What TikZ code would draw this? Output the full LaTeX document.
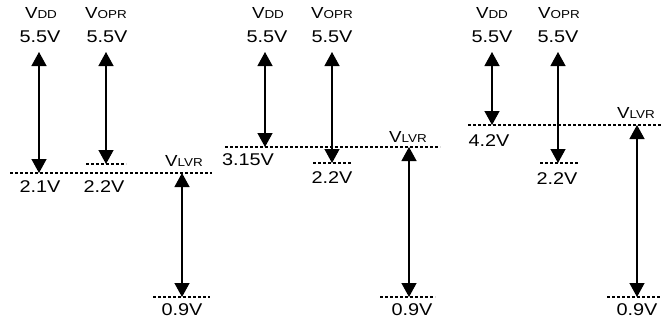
\documentclass[tikz,border=0pt]{standalone}
\usepackage{fontspec}
\setmainfont{Liberation Sans}
\usetikzlibrary{arrows.meta}
\newcommand{\vname}[1]{{\fontsize{16}{16}\selectfont V}{\fontsize{11.5}{12}\selectfont #1}}

\begin{document}
\begin{tikzpicture}[x=1pt,y=-1pt]
  \tikzstyle{volt}=[inner sep=0pt,font=\fontsize{17}{17}\selectfont,xscale=1.17,transform shape]
  \tikzstyle{vlab}=[inner sep=0pt,anchor=base,xscale=1.17,transform shape]
  \tikzstyle{level}=[dash pattern=on 3pt off 2pt,line width=1.1pt]
  \tikzstyle{span}=[{Triangle[width=15pt,length=14pt]}-{Triangle[width=15pt,length=14pt]},line width=1.3pt]
  \useasboundingbox (0,0) rectangle (661,322);
  % first case
  \node[vlab] (dd1) at (41,18) {\vname{DD}};
  \node[vlab] (opr1) at (106,18) {\vname{OPR}};
  \node[volt,anchor=base] (ddmax1) at (40,42) {5.5V};
  \node[volt,anchor=base] (oprmax1) at (107,42) {5.5V};
  \node[volt] (ddmin1) at (40,187) {2.1V};
  \node[volt] (oprmin1) at (104,187) {2.2V};
  \node[vlab] (lvr1) at (184,166) {\vname{LVR}};
  \node[volt] (lvrmin1) at (182,310) {0.9V};
  \draw[level] (10,173) -- (212,173);
  \draw[level] (86,164) -- (126,164);
  \draw[level] (153,297) -- (210,297);
  \coordinate (ddtop1) at (39,52);
  \coordinate (ddbot1) at (39,173);
  \coordinate (oprtop1) at (106,52);
  \coordinate (oprbot1) at (106,164);
  \coordinate (lvrtop1) at (182,173);
  \coordinate (lvrbot1) at (182,297);
  \draw[span] (ddtop1) -- (ddbot1);
  \draw[span] (oprtop1) -- (oprbot1);
  \draw[span] (lvrtop1) -- (lvrbot1);
  % second case
  \node[vlab] (dd2) at (268,18) {\vname{DD}};
  \node[vlab] (opr2) at (332,18) {\vname{OPR}};
  \node[volt,anchor=base] (ddmax2) at (267,42) {5.5V};
  \node[volt,anchor=base] (oprmax2) at (332,42) {5.5V};
  \node[volt] (ddmin2) at (248,160) {3.15V};
  \node[volt] (oprmin2) at (332,178) {2.2V};
  \node[vlab] (lvr2) at (408,142) {\vname{LVR}};
  \node[volt] (lvrmin2) at (412,310) {0.9V};
  \draw[level] (225,147) -- (440,147);
  \draw[level] (313,163) -- (352,163);
  \draw[level] (380,297) -- (435,297);
  \coordinate (ddtop2) at (265,52);
  \coordinate (ddbot2) at (265,147);
  \coordinate (oprtop2) at (332,52);
  \coordinate (oprbot2) at (332,163);
  \coordinate (lvrtop2) at (409,147);
  \coordinate (lvrbot2) at (409,297);
  \draw[span] (ddtop2) -- (ddbot2);
  \draw[span] (oprtop2) -- (oprbot2);
  \draw[span] (lvrtop2) -- (lvrbot2);
  % third case
  \node[vlab] (dd3) at (492,18) {\vname{DD}};
  \node[vlab] (opr3) at (559,18) {\vname{OPR}};
  \node[volt,anchor=base] (ddmax3) at (492,42) {5.5V};
  \node[volt,anchor=base] (oprmax3) at (558,42) {5.5V};
  \node[volt] (ddmin3) at (489,141) {4.2V};
  \node[volt] (oprmin3) at (557,179) {2.2V};
  \node[vlab] (lvr3) at (636,118) {\vname{LVR}};
  \node[volt] (lvrmin3) at (637,310) {0.9V};
  \draw[level] (468,125) -- (661,125);
  \draw[level] (540,163) -- (578,163);
  \draw[level] (607,297) -- (661,297);
  \coordinate (ddtop3) at (492,52);
  \coordinate (ddbot3) at (492,125);
  \coordinate (oprtop3) at (558,52);
  \coordinate (oprbot3) at (558,163);
  \coordinate (lvrtop3) at (637,125);
  \coordinate (lvrbot3) at (637,297);
  \draw[span] (ddtop3) -- (ddbot3);
  \draw[span] (oprtop3) -- (oprbot3);
  \draw[span] (lvrtop3) -- (lvrbot3);
\end{tikzpicture}
\end{document}
